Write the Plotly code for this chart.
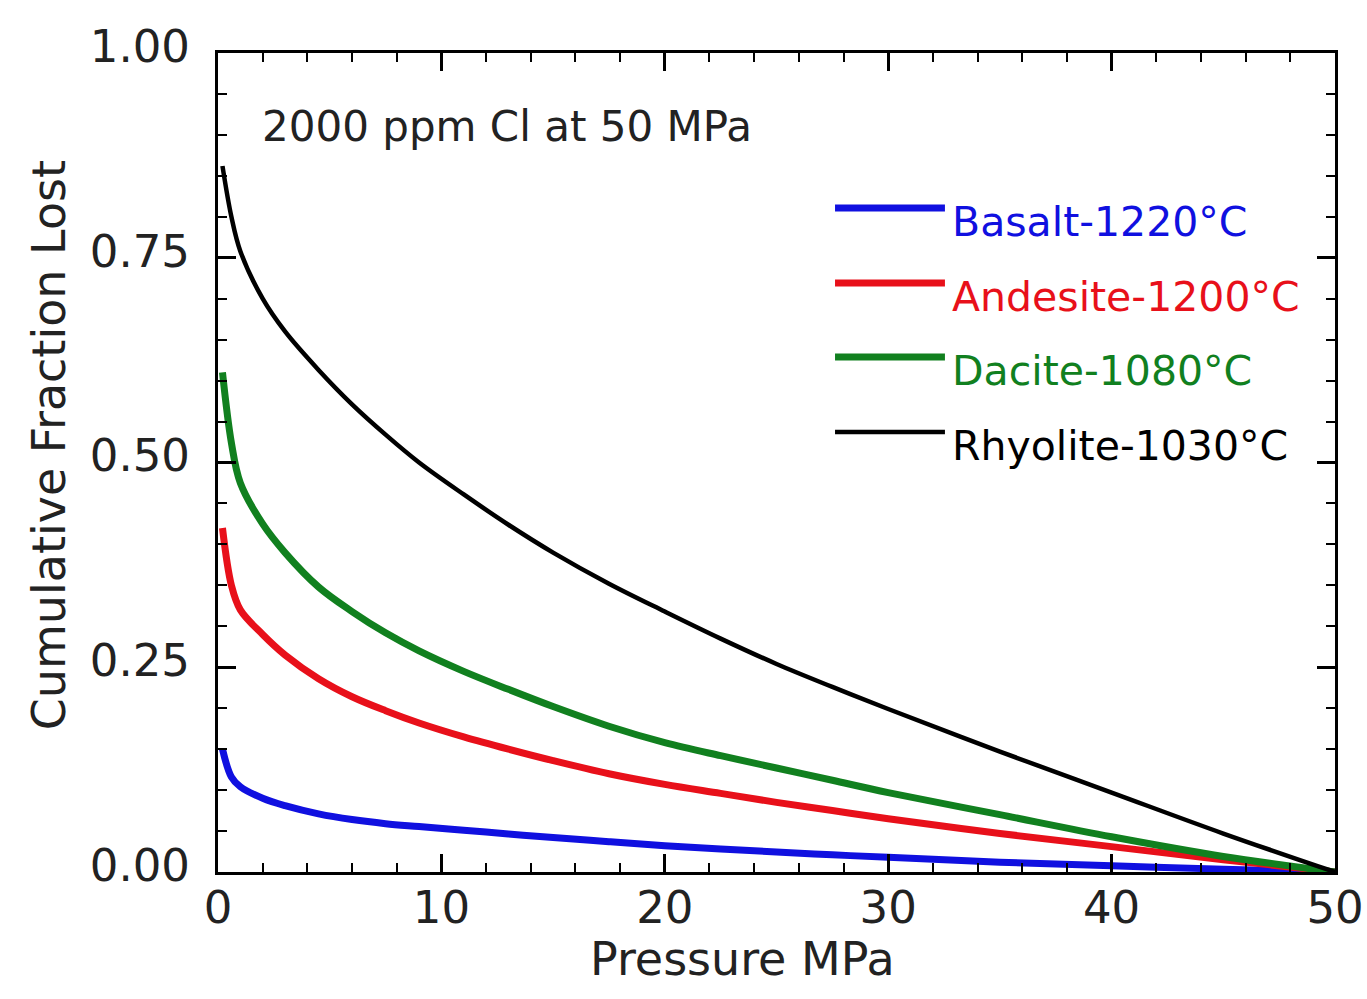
import plotly.graph_objects as go

pressure = [0.2, 0.6, 1, 2, 3, 4.5, 6, 7.5, 9, 11, 13, 15, 17.5, 20, 22.5, 25, 27.5, 30, 35, 40, 45, 50]
basalt = [0.15, 0.116, 0.104, 0.09, 0.081, 0.071, 0.064, 0.059, 0.0555, 0.051, 0.0465, 0.042, 0.037, 0.032,
          0.028, 0.0245, 0.021, 0.018, 0.012, 0.0075, 0.0035, 0.0]
andesite = [0.42, 0.35, 0.32, 0.29, 0.265, 0.236, 0.214, 0.197, 0.182, 0.165, 0.15, 0.136, 0.12, 0.107,
            0.096, 0.085, 0.075, 0.065, 0.047, 0.031, 0.015, 0.0]
dacite = [0.61, 0.524, 0.475, 0.425, 0.39, 0.348, 0.318, 0.292, 0.27, 0.245, 0.223, 0.202, 0.178, 0.158,
          0.142, 0.127, 0.112, 0.097, 0.07, 0.043, 0.019, 0.0]
rhyolite = [0.862, 0.80, 0.758, 0.70, 0.66, 0.613, 0.571, 0.534, 0.50, 0.461, 0.424, 0.39, 0.352, 0.318,
            0.285, 0.254, 0.226, 0.199, 0.147, 0.097, 0.047, 0.0]

series_names = ["Basalt-1220°C", "Andesite-1200°C", "Dacite-1080°C", "Rhyolite-1030°C"]
series_vals = [basalt, andesite, dacite, rhyolite]
colors = ["#1010e0", "#e8101a", "#11801f", "#000000"]
widths = [7, 7, 7, 4.5]

FONT = "DejaVu Sans"
TXT = "#222222"
fig = go.Figure()
for name, vals, c, w in zip(series_names, series_vals, colors, widths):
    fig.add_trace(go.Scatter(x=pressure, y=vals, mode="lines", name=name,
                             line=dict(color=c, width=w, shape="spline", smoothing=1.0),
                             showlegend=False))

# manual legend
leg_y = [0.8107, 0.7192, 0.6288, 0.5372]
for name, c, w, ly in zip(series_names, colors, widths, leg_y):
    fig.add_shape(type="line", xref="paper", yref="paper", x0=0.5524, x1=0.6508, y0=ly, y1=ly,
                  line=dict(color=c, width=w))
    fig.add_annotation(xref="paper", yref="paper", x=0.6555, y=ly - 0.0175, text=name,
                       showarrow=False, xanchor="left", yanchor="middle",
                       font=dict(family=FONT, size=41, color=c))

fig.add_annotation(xref="paper", yref="paper", x=0.038, y=0.91, text="2000 ppm Cl at 50 MPa",
                   showarrow=False, xanchor="left", yanchor="middle",
                   font=dict(family=FONT, size=42, color=TXT))

# axis titles
fig.add_annotation(xref="paper", yref="paper", x=0.470, y=-0.106, text="Pressure MPa",
                   showarrow=False, xanchor="center", yanchor="middle",
                   font=dict(family=FONT, size=46, color=TXT))
fig.add_annotation(xref="paper", yref="paper", x=-0.1513, y=0.521, text="Cumulative Fraction Lost",
                   showarrow=False, xanchor="center", yanchor="middle", textangle=-90,
                   font=dict(family=FONT, size=46, color=TXT))

axis_common = dict(showline=True, linecolor="black", linewidth=3, mirror="allticks",
                   ticks="inside", ticklen=18, tickwidth=2.5, tickcolor="black",
                   showgrid=False, zeroline=False, automargin=False,
                   tickfont=dict(family=FONT, size=45, color=TXT))

fig.update_xaxes(range=[0, 50], tickvals=[0, 10, 20, 30, 40, 50],
                 minor=dict(dtick=2, ticks="inside", ticklen=9, tickwidth=2, tickcolor="black"),
                 ticklabelstandoff=-6,
                 **axis_common)
fig.update_yaxes(range=[0, 1], tickvals=[0, 0.25, 0.5, 0.75, 1.0], tickformat=".2f",
                 minor=dict(dtick=0.05, ticks="inside", ticklen=9, tickwidth=2, tickcolor="black"),
                 ticklabelstandoff=16, ticklabelshift=-7,
                 **axis_common)

fig.update_layout(width=1367, height=999, margin=dict(l=218, r=32, t=53, b=127),
                  paper_bgcolor="white", plot_bgcolor="white")

fig.write_html("out.html")
